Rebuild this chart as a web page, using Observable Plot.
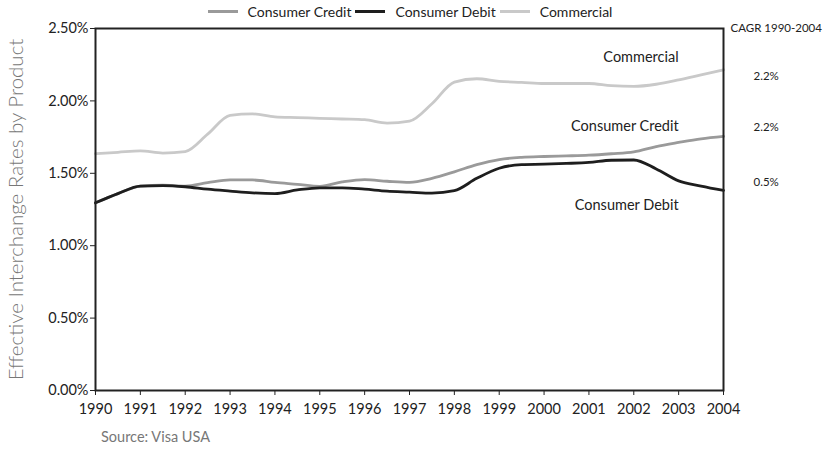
<!DOCTYPE html>
<html><head><meta charset="utf-8">
<script src="https://cdn.jsdelivr.net/npm/d3@7"></script>
<script src="https://cdn.jsdelivr.net/npm/@observablehq/plot@0.6"></script>
<style>
body{margin:0;background:#fff;font-family:Lato,"Open Sans",sans-serif;}
#legend{height:22px;display:flex;align-items:center;justify-content:center;font-size:14px;color:#222;padding-right:12px;box-sizing:border-box;}
#legend .item{display:flex;align-items:center;margin:0 2px;}
#legend .sw{width:30px;height:3px;margin-right:10px;}
#source{padding-left:101px;font-size:14.5px;color:#777;line-height:20px;}
g[aria-label="y-axis label"] text{font-size:20.5px;fill:#777;font-weight:300;}
</style></head><body>
<div id="legend"></div>
<div id="chart"></div>
<div id="source">Source: Visa USA</div>
<script>
const seriesNames = ["Consumer Credit","Consumer Debit","Commercial"];
const seriesColors = ["#9a9a9a","#1e1e1e","#c9c9c9"];
const years = [1990,1990.5,1991,1991.5,1992,1992.5,1993,1993.5,1994,1994.5,1995,1995.5,1996,1996.5,1997,1997.5,1998,1998.5,1999,1999.5,2000,2000.5,2001,2001.5,2002,2002.5,2003,2003.5,2004];
const creditValues = [1.296,1.36,1.412,1.418,1.412,1.435,1.454,1.454,1.437,1.424,1.41,1.44,1.456,1.445,1.437,1.465,1.51,1.56,1.595,1.61,1.616,1.62,1.625,1.635,1.648,1.685,1.713,1.738,1.755];
const debitValues = [1.296,1.36,1.412,1.415,1.407,1.39,1.377,1.365,1.36,1.385,1.40,1.40,1.39,1.377,1.37,1.363,1.38,1.465,1.535,1.56,1.563,1.568,1.575,1.59,1.592,1.53,1.448,1.412,1.382];
const commercialValues = [1.635,1.645,1.655,1.64,1.65,1.77,1.90,1.91,1.89,1.885,1.88,1.875,1.87,1.847,1.86,1.98,2.13,2.153,2.135,2.128,2.12,2.12,2.12,2.105,2.10,2.115,2.145,2.18,2.215];
const xTicks = [1990,1991,1992,1993,1994,1995,1996,1997,1998,1999,2000,2001,2002,2003,2004];
const yTicks = [0,0.5,1,1.5,2,2.5];
const lineLabels = ["Commercial","Consumer Credit","Consumer Debit"];
const lineLabelY = [2.30,1.826,1.278];
const cagrHeader = "CAGR 1990-2004";
const cagrLabels = ["2.2%","2.2%","0.5%"];
const cagrY = [2.17,1.82,1.44];

const valuesBySeries = [creditValues, debitValues, commercialValues];
const data = [];
seriesNames.forEach((s,i)=>years.forEach((y,j)=>data.push({series:s, year:y, value:valuesBySeries[i][j]})));

const leg = document.getElementById("legend");
seriesNames.forEach((s,i)=>{
  const it = document.createElement("div"); it.className="item";
  it.innerHTML = `<span class="sw" style="background:${seriesColors[i]}"></span><span>${s}</span>`;
  leg.appendChild(it);
});

const plot = Plot.plot({
  width:832, height:405,
  marginTop:6, marginBottom:37, marginLeft:95, marginRight:109,
  style:{fontFamily:"Lato, 'Open Sans', sans-serif", fontSize:"14px", color:"#222", background:"#fff", overflow:"visible"},
  x:{domain:[1990,2004]},
  y:{domain:[0,2.5]},
  color:{domain:seriesNames, range:seriesColors},
  marks:[
    Plot.axisX({ticks:xTicks, tickFormat:d=>String(d), tickSize:5, tickPadding:8, label:null, fontSize:14.5}),
    Plot.axisY({ticks:yTicks, tickFormat:d=>d.toFixed(2)+"%", tickSize:5, tickPadding:2, label:null, fontSize:14.5}),
    Plot.axisY({ticks:[], label:"Effective Interchange Rates by Product", labelAnchor:"center", labelArrow:"none", labelOffset:87}),
    Plot.line(data, {x:"year", y:"value", stroke:"series", curve:"monotone-x", strokeWidth:2.8}),
    Plot.frame({stroke:"#222", strokeWidth:2}),
    Plot.text(lineLabels, {x:()=>2003, y:(d,i)=>lineLabelY[i], text:d=>d, textAnchor:"end", fontSize:14.5, fill:"#222"}),
    Plot.text([cagrHeader], {x:()=>2004, y:()=>2.5, text:d=>d, textAnchor:"start", dx:7, fontSize:11.5, fill:"#222"}),
    Plot.text(cagrLabels, {x:()=>2004, y:(d,i)=>cagrY[i], text:d=>d, textAnchor:"start", dx:30, fontSize:11.5, fill:"#222"})
  ]
});
document.getElementById("chart").appendChild(plot);
</script>
</body></html>
